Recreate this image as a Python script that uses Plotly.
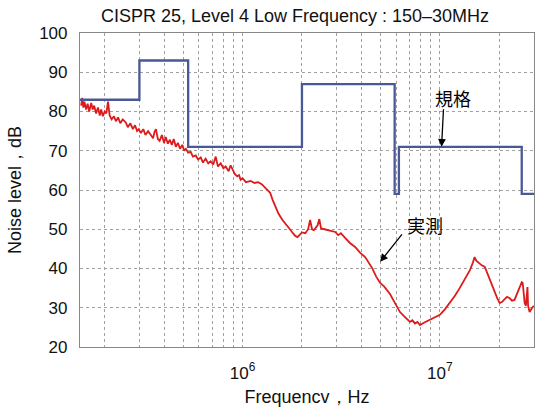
import plotly.graph_objects as go
import numpy as np

# Limit line (規格)
limit_freq = [150e3, 300e3, 300e3, 530e3, 530e3, 2e6, 2e6, 5.9e6, 5.9e6, 6.2e6, 6.2e6, 26e6, 26e6, 30e6]
limit_db = [83, 83, 93, 93, 71, 71, 87, 87, 59, 59, 71, 71, 59, 59]

# Measured (実測), kHz
meas_khz = [152, 154, 156, 158, 161, 164, 167, 171, 174, 177, 181, 185, 189, 192, 196, 200, 204, 208, 212, 217,
            223, 228, 234, 240, 247, 256, 262, 270, 278, 285, 292, 298, 305, 314, 322, 332, 343, 352, 358, 364,
            372, 380, 390, 400, 408, 418, 428, 438, 448, 459, 470, 482, 495, 506, 516, 530, 546, 560, 579, 595,
            614, 630, 650, 670, 689, 710, 731, 750, 775, 800, 821, 850, 870, 890, 915, 940, 960, 977, 1000, 1040,
            1100, 1150, 1200, 1250, 1310, 1350, 1380, 1420, 1470, 1520, 1590, 1650, 1700, 1750, 1800, 1850, 1900, 1950, 2000, 2080,
            2150, 2200, 2250, 2300, 2340, 2400, 2450, 2500, 2600, 2700, 2780, 2850, 2950, 3050, 3150, 3310, 3500, 3720, 3950, 4180,
            4350, 4540, 4750, 4980, 5200, 5590, 5800, 6060, 6280, 6600, 7050, 7250, 7480, 7700, 7930, 8300, 8900, 9500, 10000, 10600,
            11200, 11900, 12600, 13400, 14200, 14700, 15000, 15300, 15800, 16300, 16900, 17400, 17900, 18400, 19000, 19500, 20100, 20700, 21300, 21900,
            22600, 23200, 23900, 24600, 25400, 26000, 26300, 26600, 26900, 27300, 27800, 28000, 28500, 29200, 29900]
meas_db = [81.5, 83.5, 81.0, 82.5, 80.5, 82.0, 80.0, 82.2, 80.5, 81.5, 79.5, 81.0, 79.0, 80.5, 78.8, 80.0, 79.5, 82.5, 79.0, 78.0,
           78.8, 77.5, 78.5, 77.0, 78.0, 77.2, 76.0, 77.0, 75.5, 76.5, 75.0, 75.5, 74.5, 75.5, 74.0, 75.0, 74.0, 73.2, 74.8, 75.5,
           73.0, 72.5, 74.0, 72.0, 73.5, 71.8, 72.8, 71.5, 73.0, 71.0, 72.0, 70.5, 71.5, 70.0, 70.5, 69.5, 69.7, 68.5, 68.8, 67.8,
           68.3, 67.0, 68.0, 66.8, 67.3, 66.5, 68.5, 66.0, 66.8, 65.5, 66.0, 64.8, 66.3, 65.2, 64.0, 63.5, 63.8, 62.6, 63.0, 62.0,
           62.3, 61.8, 62.0, 61.5, 60.5, 60.0, 59.3, 57.5, 55.7, 54.0, 52.4, 51.5, 50.5, 49.8, 49.0, 48.3, 48.0, 48.5, 49.2, 49.0,
           50.0, 52.4, 50.0, 49.8, 50.2, 51.0, 52.6, 50.2, 50.0, 49.8, 49.8, 49.6, 49.3, 48.5, 49.0, 47.8, 46.5, 45.5, 44.0, 42.9,
           41.5, 40.1, 38.0, 36.3, 35.5, 33.5, 32.0, 30.2, 28.9, 27.8, 26.4, 26.8, 26.0, 26.4, 25.6, 26.2, 26.9, 27.6, 28.2, 29.6,
           31.2, 33.0, 35.0, 37.3, 39.6, 41.5, 42.9, 42.0, 41.3, 40.8, 40.4, 38.8, 37.1, 35.5, 33.8, 32.5, 31.2, 31.5, 32.2, 32.8,
           32.4, 31.8, 32.0, 33.5, 35.3, 36.5, 36.3, 33.0, 31.2, 30.5, 35.3, 30.5, 28.9, 29.8, 30.5]
meas_freq = [k * 1e3 for k in meas_khz]

# Grid positions (every integer multiple per decade)
grid_vals = [m * 10 ** e for e in (5, 6, 7) for m in range(1, 10) if 150e3 <= m * 10 ** e <= 30e6]
grid_text = ["10<sup>6</sup>" if v == 1e6 else ("10<sup>7</sup>" if v == 1e7 else "") for v in grid_vals]

font = "Liberation Sans, Arial, sans-serif"

fig = go.Figure()
fig.add_trace(go.Scatter(x=meas_freq, y=meas_db, mode="lines",
                         line=dict(color="#dc1c1c", width=1.8), showlegend=False))
fig.add_trace(go.Scatter(x=limit_freq, y=limit_db, mode="lines",
                         line=dict(color="#4a5898", width=2.3), showlegend=False))

fig.update_layout(
    width=540, height=410,
    margin=dict(l=80, r=6, t=33, b=63),
    paper_bgcolor="white", plot_bgcolor="white",
    font=dict(family=font, size=16, color="#111"),
    title=dict(text="CISPR 25, Level 4 Low Frequency : 150–30MHz",
               x=(295 / 540), xanchor="center", y=1 - 16 / 410, yanchor="middle",
               font=dict(size=18)),
    xaxis=dict(type="log", range=[np.log10(150e3), np.log10(30e6)],
               tickmode="array", tickvals=grid_vals, ticktext=grid_text,
               showgrid=True, gridcolor="#a0a0a0", griddash="dot", gridwidth=1,
               showline=True, linecolor="#888", linewidth=1.2, mirror=True,
               ticks="", tickfont=dict(size=17), ticklabelstandoff=10,
               title=dict(text="Frequencv，Hz", font=dict(size=18), standoff=8),
               zeroline=False),
    yaxis=dict(range=[20, 100], tickmode="array", tickvals=list(range(20, 101, 10)),
               showgrid=True, gridcolor="#a0a0a0", griddash="dot", gridwidth=1,
               showline=True, linecolor="#888", linewidth=1.2, mirror=True,
               ticks="", tickfont=dict(size=17), ticklabelstandoff=8,
               title=dict(text="Noise level，dB", font=dict(size=18), standoff=12),
               zeroline=False),
)

# Arrows
fig.add_annotation(x=np.log10(10.2e6), y=71, ax=2, ay=-39, text="", showarrow=True,
                   arrowhead=2, arrowsize=1.2, arrowwidth=1.3, arrowcolor="black")
fig.add_annotation(x=np.log10(4.98e6), y=41.7, ax=23, ay=-29, text="", showarrow=True,
                   arrowhead=2, arrowsize=1.2, arrowwidth=1.3, arrowcolor="black")
# Labels
fig.add_annotation(x=7.066, y=83.4, text="規格", showarrow=False,
                   font=dict(family="Noto Sans CJK JP", size=18, color="black"))
fig.add_annotation(x=6.924, y=51.1, text="実測", showarrow=False,
                   font=dict(family="Noto Sans CJK JP", size=18, color="black"))

fig.write_html("out.html")
